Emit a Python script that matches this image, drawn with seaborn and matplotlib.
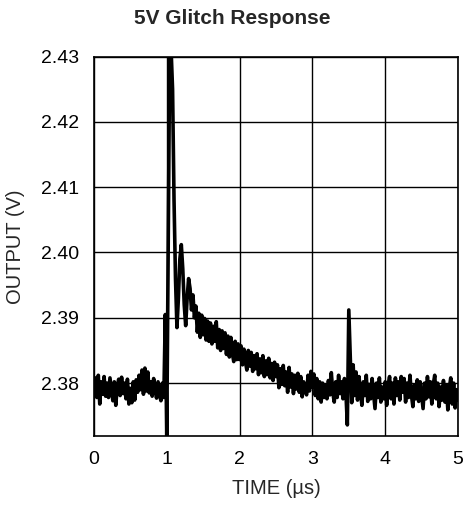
import numpy as np
import pandas as pd
import matplotlib
matplotlib.use("Agg")
import matplotlib.pyplot as plt
import seaborn as sns

# Output voltage (V), sampled every 0.02 us from 0 to 5 us
output_v = [
    2.3795, 2.3808, 2.3778, 2.3812, 2.3768, 2.3802, 2.3783, 2.3810, 2.3780, 2.3800,
    2.3778, 2.3808, 2.3790, 2.3773, 2.3802, 2.3766, 2.3795, 2.3806, 2.3781, 2.3809,
    2.3784, 2.3800, 2.3776, 2.3806, 2.3768, 2.3792, 2.3770, 2.3802, 2.3774, 2.3805,
    2.3786, 2.3812, 2.3790, 2.3820, 2.3783, 2.3823, 2.3788, 2.3817, 2.3785, 2.3802,
    2.3780, 2.3807, 2.3790, 2.3777, 2.3802, 2.3782, 2.3773, 2.3800, 2.3778, 2.3905,
    2.3718, 2.4000, 2.4300, 2.4310, 2.4250, 2.4080, 2.3960, 2.3885, 2.3930, 2.3990,
    2.4012, 2.3975, 2.3920, 2.3888, 2.3930, 2.3960, 2.3945, 2.3912, 2.3935, 2.3900,
    2.3918, 2.3878, 2.3907, 2.3870, 2.3904, 2.3874, 2.3899, 2.3866, 2.3895, 2.3864,
    2.3892, 2.3860, 2.3887, 2.3864, 2.3894, 2.3854, 2.3882, 2.3850, 2.3880, 2.3853,
    2.3877, 2.3844, 2.3872, 2.3840, 2.3870, 2.3846, 2.3833, 2.3864, 2.3836, 2.3860,
    2.3836, 2.3857, 2.3828, 2.3852, 2.3833, 2.3820, 2.3850, 2.3826, 2.3847, 2.3818,
    2.3842, 2.3822, 2.3845, 2.3813, 2.3837, 2.3816, 2.3842, 2.3810, 2.3834, 2.3813,
    2.3838, 2.3808, 2.3830, 2.3804, 2.3832, 2.3810, 2.3828, 2.3793, 2.3822, 2.3798,
    2.3827, 2.3796, 2.3817, 2.3786, 2.3824, 2.3794, 2.3814, 2.3784, 2.3812, 2.3791,
    2.3815, 2.3786, 2.3810, 2.3779, 2.3802, 2.3791, 2.3782, 2.3812, 2.3788, 2.3818,
    2.3794, 2.3814, 2.3781, 2.3807, 2.3776, 2.3802, 2.3771, 2.3800, 2.3778, 2.3797,
    2.3776, 2.3804, 2.3782, 2.3816, 2.3786, 2.3771, 2.3802, 2.3778, 2.3812, 2.3784,
    2.3802, 2.3776, 2.3807, 2.3786, 2.3736, 2.3912, 2.3842, 2.3770, 2.3828, 2.3781,
    2.3817, 2.3774, 2.3810, 2.3786, 2.3766, 2.3802, 2.3781, 2.3812, 2.3772, 2.3798,
    2.3776, 2.3807, 2.3784, 2.3761, 2.3800, 2.3778, 2.3808, 2.3771, 2.3794, 2.3776,
    2.3802, 2.3766, 2.3797, 2.3810, 2.3776, 2.3800, 2.3768, 2.3808, 2.3781, 2.3802,
    2.3774, 2.3810, 2.3786, 2.3807, 2.3771, 2.3800, 2.3778, 2.3812, 2.3782, 2.3764,
    2.3797, 2.3776, 2.3805, 2.3772, 2.3802, 2.3781, 2.3761, 2.3800, 2.3776, 2.3810,
    2.3779, 2.3802, 2.3768, 2.3798, 2.3812, 2.3776, 2.3800, 2.3764, 2.3794, 2.3774,
    2.3804, 2.3771, 2.3797, 2.3759, 2.3792, 2.3808, 2.3768, 2.3800, 2.3762, 2.3790,
    2.3774,
]
time_us = np.linspace(0, 5, len(output_v))

x_ticks = [0, 1, 2, 3, 4, 5]
y_ticks = [2.38, 2.39, 2.40, 2.41, 2.42, 2.43]
y_tick_labels = ["2.38", "2.39", "2.40", "2.41", "2.42", "2.43"]

df = pd.DataFrame({"time": time_us, "output": output_v})

sns.set_style("white")
plt.rcParams["font.family"] = ["Liberation Sans", "DejaVu Sans"]

fig = plt.figure(figsize=(4.65, 5.08), dpi=100)
ax = fig.add_axes([0.202, 0.1417, 0.783, 0.747])

sns.lineplot(data=df, x="time", y="output", color="black", linewidth=2.6, ax=ax)

ax.set_xlim(0, 5)
ax.set_ylim(2.3719, 2.43)
ax.set_xticks(x_ticks)
ax.set_yticks(y_ticks)
ax.set_yticklabels(y_tick_labels)
ax.grid(True, color="black", linewidth=1.0)
ax.set_axisbelow(True)
for s in ax.spines.values():
    s.set_color("black")
    s.set_linewidth(1.2)
ax.tick_params(direction="out", length=2.5, width=1, labelsize=14, colors="black", pad=8)
ax.tick_params(axis="x", pad=8)

ax.set_xlabel("TIME (µs)", fontsize=14.5, labelpad=8)
ax.set_ylabel("OUTPUT (V)", fontsize=14.5, labelpad=12)
fig.suptitle("5V Glitch Response", fontsize=15, fontweight="bold", x=0.5, y=0.982)

fig.savefig("out.png", dpi=100)
